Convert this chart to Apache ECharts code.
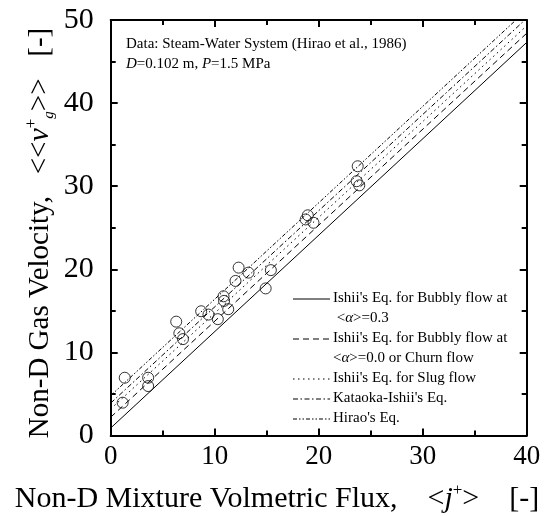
<!DOCTYPE html>
<html>
<head>
<meta charset="utf-8">
<script src="https://cdn.jsdelivr.net/npm/echarts@6/dist/echarts.min.js"></script>
<style>
  html, body { margin: 0; padding: 0; background: #fff; }
  #chart { width: 554px; height: 516px; }
</style>
</head>
<body>
<div id="chart"></div>
<script>
// 数据：Hirao et al. 1986 测点
const jPlus = [1.35, 1.15, 3.6, 3.6, 6.3, 6.6, 6.95, 8.7, 9.4, 10.3, 10.85, 10.9, 11.3, 12.0, 12.3, 13.25, 14.9, 15.4, 18.75, 18.95, 19.5, 23.65, 23.75, 23.9]
const vgPlus = [6.95, 3.95, 6.95, 5.95, 13.7, 12.3, 11.6, 14.95, 14.55, 14.0, 16.75, 16.2, 15.2, 18.6, 20.2, 19.6, 17.7, 19.9, 26.0, 26.5, 25.6, 30.6, 32.4, 30.1]

// 各模型直线的端点 [j+, vg+]
const ishiiBubbly03 = [[0, 0.9], [40, 47.3]]
const ishiiBubbly00 = [[0, 2.2], [40, 48.4]]
const ishiiSlug = [[0, 3.2], [40, 49.3]]
const kataokaIshii = [[0, 3.9], [40, 50.2]]
const hiraoEq = [[0, 4.8], [40, 51.2]]

// 图例文字
const legendNames = [
    ["Ishii's Eq. for Bubbly flow at", ' {a|<}{i|α}{a|>=0.3}'],
    ["Ishii's Eq. for Bubbly flow at", '{a|<}{i|α}{a|>=0.0 or Churn flow}'],
    ["Ishii's Eq. for Slug flow"],
    ["Kataoka-Ishii's Eq."],
    ["Hirao's Eq."]
]

const FONT = '"Liberation Serif", "DejaVu Serif", serif'
const dashes = ['solid', [6, 4], [1.5, 3.5], [5, 2.5, 1.5, 2.5], [4, 2, 1.5, 2, 1.5, 2]]
const lines = [ishiiBubbly03, ishiiBubbly00, ishiiSlug, kataokaIshii, hiraoEq]

// 轴的公共设置
const axisCommon = (show, margin, size) => ({
    axisLine: { show: true, onZero: false, lineStyle: { color: '#000', width: 2 } },
    axisTick: { show: true, inside: true, length: 7, lineStyle: { color: '#000', width: 2 } },
    minorTick: { show: true, splitNumber: 2, length: 5, lineStyle: { color: '#000', width: 2 } },
    splitLine: { show: false },
    axisLabel: { show: show, color: '#000', fontFamily: FONT, fontSize: size, margin: margin }
})

const lineSeries = lines.map((d, k) => ({
    type: 'line',
    data: d,
    symbol: 'none',
    clip: true,
    silent: true,
    lineStyle: { color: '#000', width: 1, type: dashes[k] },
    z: 2
}))

// 图例用 graphic 画
let legendGraphic = []
let ly = 299
legendNames.forEach((item, k) => {
    legendGraphic.push({
        type: 'line',
        shape: { x1: 293, y1: ly, x2: 330, y2: ly },
        style: { stroke: '#000', lineWidth: 1, lineDash: k === 0 ? null : dashes[k] }
    })
    item.forEach((t, m) => {
        legendGraphic.push({
            type: 'text',
            left: 333,
            top: ly + m * 20 - 8,
            style: {
                text: t,
                fontFamily: FONT, fontSize: 15, fill: '#000',
                rich: {
                    a: { fontFamily: FONT, fontSize: 15 },
                    i: { fontFamily: FONT, fontSize: 15, fontStyle: 'italic' }
                }
            }
        })
    })
    ly += item.length * 20
})

const titleRich = {
    i: { fontFamily: FONT, fontSize: 30, fontStyle: 'italic' },
    sup: { fontFamily: FONT, fontSize: 17, verticalAlign: 'top', lineHeight: 34 },
    sub: { fontFamily: FONT, fontSize: 15, fontStyle: 'italic', verticalAlign: 'bottom', lineHeight: 34 }
}

const option = {
    animation: false,
    grid: { left: 110.7, right: 27.3, top: 20, bottom: 80.5, containLabel: false },
    xAxis: [
        Object.assign({ type: 'value', min: 0, max: 40, interval: 10 }, axisCommon(true, 8, 27)),
        Object.assign({ type: 'value', min: 0, max: 40, interval: 10, position: 'top' }, axisCommon(false, 8, 27))
    ],
    yAxis: [
        Object.assign({ type: 'value', min: 0, max: 50, interval: 10 }, axisCommon(true, 17, 30)),
        Object.assign({ type: 'value', min: 0, max: 50, interval: 10, position: 'right' }, axisCommon(false, 17, 30))
    ],
    series: lineSeries.concat([{
        type: 'scatter',
        data: jPlus.map((x, i) => [x, vgPlus[i]]),
        symbol: 'circle',
        symbolSize: 11,
        itemStyle: { color: 'rgba(255,255,255,0)', borderColor: '#000', borderWidth: 1 },
        z: 3
    }]),
    graphic: legendGraphic.concat([
        {
            type: 'text', left: 126, top: 37,
            style: { text: 'Data: Steam-Water System (Hirao et al., 1986)', fontFamily: FONT, fontSize: 15, fill: '#000' }
        },
        {
            type: 'text', left: 126, top: 57,
            style: {
                text: '{i|D}=0.102 m, {i|P}=1.5 MPa',
                fontFamily: FONT, fontSize: 15, fill: '#000',
                rich: { i: { fontFamily: FONT, fontSize: 15, fontStyle: 'italic' } }
            }
        },
        // x 轴标题
        {
            type: 'text', x: 277, y: 499,
            style: {
                text: 'Non-D Mixture Volmetric Flux,    <{i|j}{sup|+}>    [-]',
                fontFamily: FONT, fontSize: 30, fill: '#000',
                align: 'center', verticalAlign: 'middle',
                rich: titleRich
            }
        },
        // y 轴标题
        {
            type: 'text', x: 40, y: 233, rotation: Math.PI / 2,
            style: {
                text: 'Non-D Gas Velocity,   <<{i|v}{sup|+}{sub|g}>>   [-]',
                fontFamily: FONT, fontSize: 29, fill: '#000',
                align: 'center', verticalAlign: 'middle',
                rich: titleRich
            }
        }
    ])
}

const myChart = echarts.init(document.getElementById('chart'))
myChart.setOption(option)
</script>
</body>
</html>
